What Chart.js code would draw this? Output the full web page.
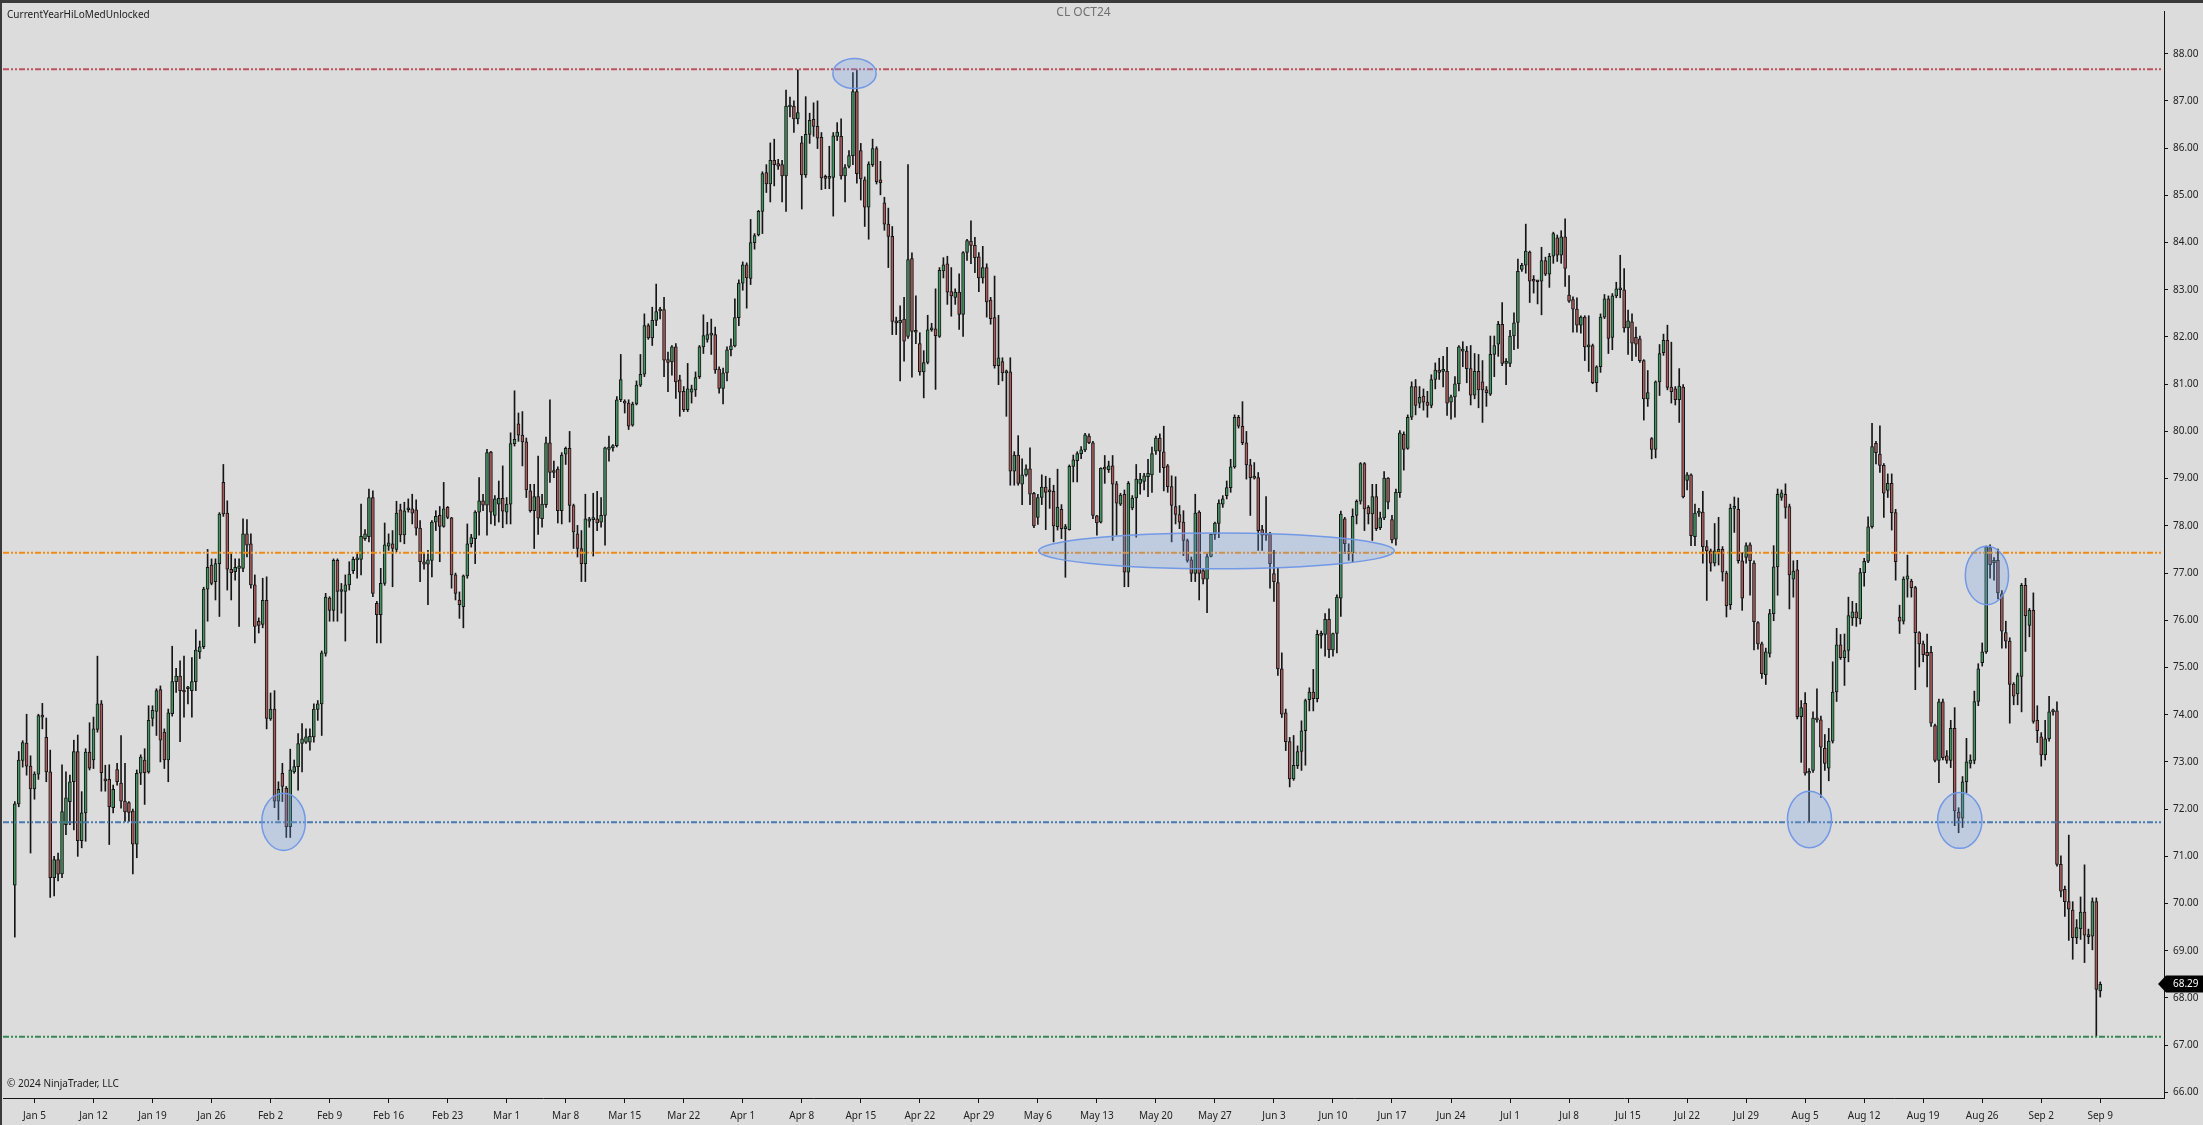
<!DOCTYPE html>
<html>
<head>
<meta charset="utf-8">
<title>CL OCT24</title>
<script src="https://cdn.jsdelivr.net/npm/chart.js@4.4.1/dist/chart.umd.min.js"></script>
<style>
  html, body { margin: 0; padding: 0; background: #dcdcdc; overflow: hidden; }
  #wrap { width: 2203px; height: 1125px; }
</style>
</head>
<body>
<div id="wrap"><canvas id="cl" width="2203" height="1125"></canvas></div>
<script>
// x axis: one label every 15 bars, first one on bar 5
const xTickLabels = [
  'Jan 5', 'Jan 12', 'Jan 19', 'Jan 26', 'Feb 2', 'Feb 9', 'Feb 16', 'Feb 23',
  'Mar 1', 'Mar 8', 'Mar 15', 'Mar 22', 'Apr 1', 'Apr 8', 'Apr 15', 'Apr 22',
  'Apr 29', 'May 6', 'May 13', 'May 20', 'May 27', 'Jun 3', 'Jun 10', 'Jun 17',
  'Jun 24', 'Jul 1', 'Jul 8', 'Jul 15', 'Jul 22', 'Jul 29', 'Aug 5', 'Aug 12',
  'Aug 19', 'Aug 26', 'Sep 2', 'Sep 9'
];
const firstTickBar = 5;
const barsPerTick = 15;

const yTickValues = [66, 67, 68, 69, 70, 71, 72, 73, 74, 75, 76, 77, 78, 79, 80,
  81, 82, 83, 84, 85, 86, 87, 88];

// CurrentYearHiLoMed levels: high, median, (blue) level, low
const levelValues = [87.67, 77.43, 71.72, 67.18];

// bars as [open, high, low, close]
const janFeb = [
  [70.39,72.16,69.29,72.11],[72.11,73.22,72.05,73.04],[73.03,73.45,72.89,73.41],[73.40,74.01,72.72,72.91],
  [72.91,73.13,71.07,72.43],[72.43,72.79,72.21,72.74],[72.74,74.01,72.63,73.98],[73.98,74.24,73.70,73.95],
  [73.52,73.93,72.58,72.79],[72.79,73.25,70.13,70.55],[70.55,71.00,70.16,70.93],[70.93,71.07,70.48,70.62],
  [70.63,72.94,70.55,71.95],[71.67,72.79,71.46,72.24],[72.16,72.72,71.67,72.58],[72.58,73.46,71.56,73.22],
  [73.22,73.57,71.00,71.33],[71.33,72.37,71.18,71.92],[71.92,73.28,71.32,73.21],[73.21,73.83,72.83,72.87],
  [73.04,73.95,72.86,73.70],[73.69,75.24,73.63,74.23],[74.23,74.30,72.38,72.77],[72.63,72.93,72.38,72.60],
  [72.63,72.94,71.25,72.05],[72.03,72.51,71.92,72.42],[72.84,72.97,72.51,72.58],[72.55,73.56,72.02,72.17],
  [72.17,72.97,71.74,71.94],[72.14,72.16,71.74,71.93],[71.96,72.00,70.63,71.26],[71.26,72.83,70.97,72.76],
  [72.76,73.15,72.52,73.10],[73.04,73.28,72.10,72.77],[72.79,74.19,72.76,73.88],[73.92,74.19,73.76,74.09],
  [74.07,74.55,73.56,74.51],[74.53,74.61,73.00,73.46],[73.63,73.70,72.86,73.04],[73.04,74.12,72.58,74.04],
  [74.02,75.45,73.97,74.70],[74.70,74.98,74.47,74.82],[74.82,75.14,73.43,74.51],[74.51,75.24,73.95,74.48],
  [74.55,74.60,74.23,74.58],[74.51,75.21,73.95,74.70],[74.70,75.80,74.51,75.37],[75.33,75.56,75.19,75.44],
  [75.44,76.70,75.40,76.66],[76.66,77.50,75.98,77.12],[77.17,77.30,76.75,76.78],[76.82,77.30,76.43,77.20],
  [77.20,78.28,76.08,78.25],[78.92,79.30,78.20,78.25],[78.27,78.53,76.64,77.08],[77.08,77.41,76.43,77.01],
  [77.03,77.30,76.85,77.12],[77.10,77.30,75.87,77.15],[77.10,78.15,77.03,77.83],[77.83,78.13,77.34,77.59],
  [77.62,77.83,76.68,76.75],[76.75,76.96,75.52,75.87],[75.98,76.05,75.73,75.89],[75.91,76.89,75.84,76.42],
  [76.42,76.92,73.70,73.92],[73.91,74.46,73.88,74.12],[74.12,74.51,72.03,72.17],[72.17,72.58,71.77,72.42],
  [72.76,72.97,72.16,72.48],[72.44,72.48,71.40,71.63],[71.63,73.27,71.40,72.83],[72.79,73.04,72.76,72.90],
  [72.90,73.60,72.40,73.39],[73.39,73.81,72.79,73.49],[73.42,73.70,73.39,73.53],[73.42,73.70,73.25,73.54],
  [73.53,74.23,73.42,74.12],[74.11,74.30,73.88,74.23],[74.23,75.35,73.56,75.31],[75.30,76.57,75.24,76.49],
  [76.47,76.50,75.98,76.21],[76.21,77.30,75.98,77.27],[77.27,77.30,75.98,76.61],[76.61,76.78,76.15,76.63],
  [76.61,76.96,75.56,76.75],[76.75,77.24,76.64,76.98],[77.05,77.34,76.99,77.29],[77.28,77.41,76.89,77.31],
  [77.29,78.46,76.96,77.78],[77.73,77.92,77.69,77.83]
];
const febApr = [
  [77.77,78.78,77.66,78.60],[78.60,78.74,76.50,76.57],[76.36,76.40,75.52,76.12],[76.12,77.10,75.52,76.78],
  [76.78,78.06,76.74,77.60],[77.57,77.83,77.48,77.64],[77.62,77.90,76.71,77.52],[77.50,78.52,77.45,78.27],
  [78.34,78.46,77.66,77.81],[77.81,78.50,77.62,78.32],[78.34,78.57,78.29,78.37],[78.36,78.67,78.04,78.27],
  [78.34,78.55,77.80,77.95],[77.95,78.11,76.82,77.24],[77.24,77.41,77.08,77.19],[77.19,77.48,76.33,77.28],
  [77.27,78.11,76.92,78.08],[78.08,78.32,77.90,78.20],[78.22,78.41,77.24,77.99],[77.99,78.92,77.97,78.36],
  [78.39,78.41,78.15,78.18],[78.17,78.18,76.68,76.96],[76.96,77.00,76.43,76.57],[76.43,76.60,76.04,76.33],
  [76.29,76.96,75.84,76.94],[76.94,78.04,76.89,77.62],[77.62,77.82,77.55,77.75],[77.73,78.32,77.20,78.29],
  [78.29,79.02,77.80,78.53],[78.53,78.67,78.32,78.44],[78.44,79.62,77.80,79.55],[79.56,79.58,78.04,78.29],
  [78.22,78.64,78.01,78.57],[78.46,78.95,78.08,78.58],[78.58,79.27,77.96,78.31],[78.29,78.60,78.04,78.46],
  [78.46,79.97,78.04,79.74],[79.74,80.86,79.69,79.83],[80.16,80.39,79.79,79.92],[79.92,80.42,79.27,79.78],
  [79.78,79.86,78.60,78.76],[78.74,78.88,78.29,78.32],[78.32,78.88,77.52,78.62],[78.62,79.48,77.82,78.16],
  [78.15,78.67,77.97,78.46],[78.45,79.88,78.39,79.76],[79.76,80.67,78.92,79.13],[79.13,79.37,79.02,79.17],
  [79.20,79.25,78.06,78.32],[78.32,79.55,78.04,79.50],[79.52,79.67,79.30,79.64],[79.64,80.00,78.08,78.43],
  [78.43,78.46,77.52,77.87],[77.83,78.01,77.34,77.52],[77.52,77.90,76.82,77.20],[77.20,78.67,76.82,78.15],
  [78.10,78.18,77.97,78.15],[78.13,78.69,77.36,78.14],[78.15,78.73,77.90,78.06],[78.08,78.60,77.97,78.22],
  [78.22,79.67,77.59,79.65],[79.62,79.90,79.37,79.67],[79.65,79.72,79.58,79.70],[79.70,80.74,79.67,80.67],
  [80.67,81.63,80.63,81.10],[80.63,80.67,80.39,80.60],[80.60,80.67,80.04,80.11],[80.13,80.62,80.11,80.58],
  [80.58,81.07,80.56,80.98],[80.98,81.63,80.95,81.21],[81.21,82.49,81.16,82.24],[82.24,82.28,81.95,81.98],
  [81.98,82.63,81.82,82.35],[82.35,83.12,82.24,82.54],[82.55,82.63,82.38,82.58],[82.58,82.84,81.16,81.51],
  [81.52,81.68,80.84,81.46],[81.47,81.82,81.19,81.79],[81.79,81.86,80.70,81.05],[81.09,81.19,80.32,80.83],
  [80.85,80.95,80.42,80.46],[80.46,81.44,80.42,80.90],[80.83,80.98,80.60,80.90],[80.88,81.26,80.74,81.14],
  [81.16,81.82,81.12,81.79],[81.79,82.47,81.65,82.03],[81.95,82.31,81.89,82.05],[82.04,82.38,81.63,82.06],
  [82.05,82.21,81.23,81.30],[81.32,81.37,80.81,80.91]
];
const aprMay = [
  [80.91,81.34,80.58,81.24],[81.24,81.79,81.07,81.73],[81.73,81.96,81.60,81.81],[81.81,82.81,81.79,82.41],
  [82.41,83.21,82.24,83.14],[83.14,83.59,82.99,83.53],[83.53,83.57,82.61,83.25],[83.24,84.49,83.11,84.00],
  [84.00,84.19,83.86,84.15],[84.16,84.68,84.14,84.66],[84.66,85.50,84.19,85.46],[85.48,85.65,85.06,85.24],
  [85.24,86.11,84.86,85.74],[85.74,86.19,85.20,85.65],[85.67,85.76,85.55,85.62],[85.65,85.74,84.86,85.41],
  [85.41,87.23,84.66,86.89],[86.87,87.08,86.66,86.91],[86.89,87.00,86.33,86.62],[86.62,87.66,86.51,86.75],
  [86.11,86.25,84.71,85.43],[85.43,87.09,85.38,86.29],[86.29,86.74,86.10,86.59],[86.61,86.96,86.25,86.46],
  [86.46,87.00,85.99,86.21],[86.23,86.33,85.12,85.37],[85.38,85.43,85.14,85.36],[85.36,86.04,85.14,85.38],
  [85.38,86.33,84.56,86.26],[86.25,86.54,86.16,86.34],[86.25,86.62,85.34,85.41],[85.41,85.65,84.86,85.59],
  [85.61,85.95,85.58,85.84],[85.84,87.60,85.65,87.20],[87.20,87.66,85.26,85.46],[85.95,86.10,84.90,85.35],
  [85.33,85.39,84.34,84.75],[84.75,85.71,84.07,85.66],[85.65,86.19,85.61,85.99],[85.99,86.03,85.24,85.29],
  [85.33,85.72,85.01,85.27],[84.84,84.96,84.26,84.39],[84.39,84.73,83.47,84.13],[84.13,84.34,82.05,82.33],
  [82.33,82.42,82.05,82.30],[82.30,82.66,81.07,82.35],[82.38,82.84,81.49,81.91],[82.01,85.65,81.97,83.64],
  [83.66,83.78,81.15,82.12],[82.12,82.87,81.86,82.10],[81.86,82.09,81.19,81.26],[81.26,81.71,80.71,81.46],
  [81.46,82.46,81.43,82.15],[82.15,82.29,82.12,82.17],[82.17,83.02,80.89,82.03],[82.01,83.47,81.99,83.41],
  [83.40,83.68,83.25,83.53],[83.55,83.71,82.69,82.95],[82.96,83.47,82.44,82.87],[82.84,83.02,82.69,82.95],
  [82.95,83.34,82.16,82.48],[82.48,83.81,82.01,83.79],[83.79,84.07,83.62,84.04],[84.03,84.46,83.55,83.94],
  [83.94,84.11,83.36,83.68],[83.70,83.79,82.96,83.25],[83.25,83.92,83.14,83.47],[83.47,83.55,82.42,82.74],
  [82.78,82.84,82.27,82.39],[82.41,83.29,81.34,81.39],[81.39,82.46,80.99,81.56],[81.48,81.56,81.07,81.24],
  [81.24,81.30,80.32,81.27],[81.26,81.56,78.86,79.16],[79.16,79.57,78.86,79.50],[79.50,79.91,78.86,78.90],
  [78.88,79.42,78.45,79.08],[79.08,79.29,79.05,79.21],[79.21,79.65,78.45,78.67],[78.69,78.71,77.96,78.00],
  [78.18,78.67,78.03,78.60],[78.60,79.08,78.45,78.82],[78.82,79.05,77.92,78.71],[78.73,79.01,78.37,78.72],
  [78.73,78.86,77.66,78.00],[77.98,79.20,77.91,78.39],[78.35,78.45,77.73,77.94],[77.94,78.03,76.91,77.96],
  [77.92,79.29,77.91,79.26],[79.26,79.50,78.93,79.40],[79.38,79.57,78.93,79.53],[79.53,79.68,79.42,79.61],
  [79.61,79.96,79.57,79.93]
];
const mayJun = [
  [79.90,79.95,79.74,79.76],[79.76,79.79,78.15,78.22],[78.21,78.22,77.80,78.06],[78.08,79.23,78.06,79.22],
  [79.22,79.49,78.90,79.20],[79.19,79.37,79.13,79.27],[79.27,79.49,77.69,78.88],[78.89,78.94,77.80,78.48],
  [78.46,78.69,78.43,78.65],[78.67,78.76,76.71,77.02],[77.02,78.94,76.71,78.90],[78.38,78.64,78.34,78.59],
  [78.59,79.30,77.76,78.99],[78.90,79.11,78.67,78.99],[78.94,79.11,78.76,79.06],[79.04,79.41,78.62,79.11],
  [79.08,79.67,78.71,79.53],[79.58,79.90,79.51,79.86],[79.86,79.95,79.13,79.58],[79.57,80.11,78.74,79.23],
  [79.27,79.30,78.71,78.83],[78.83,79.06,77.66,78.43],[78.41,79.04,78.04,78.24],[78.24,78.43,77.94,78.08],
  [78.08,78.32,77.37,77.69],[77.69,77.72,77.23,77.27],[77.28,77.34,76.82,76.99],[76.99,78.67,76.82,78.27],
  [78.29,78.32,76.43,76.99],[77.05,77.10,76.77,76.87],[76.87,77.41,76.16,77.35],[77.35,77.83,77.34,77.82],
  [77.82,78.08,77.71,78.06],[78.05,78.55,77.75,78.48],[78.46,78.64,78.39,78.57],[78.64,78.95,78.57,78.81],
  [78.81,79.41,78.71,79.25],[79.25,80.35,79.22,80.30],[80.30,80.34,80.07,80.11],[80.11,80.63,79.72,79.76],
  [79.76,80.00,78.99,79.29],[79.29,79.41,78.22,79.02],[79.04,79.34,78.99,79.01],[79.02,79.13,77.48,77.90],
  [77.92,78.01,77.48,77.80],[77.83,78.62,77.69,77.80],[77.83,77.86,76.68,77.20],[76.99,77.48,76.40,76.82],
  [76.80,77.12,74.83,74.97],[74.97,75.31,73.94,74.01],[74.04,74.12,73.24,73.43],[73.43,73.52,72.47,72.64],
  [72.64,73.56,72.61,72.93],[72.92,73.34,72.86,73.22],[73.22,73.87,72.82,73.66],[73.66,74.33,72.93,74.30],
  [74.32,74.57,74.08,74.48],[74.48,74.96,74.08,74.34],[74.34,75.79,74.27,75.70],[75.68,75.77,75.41,75.72],
  [75.70,76.14,75.24,76.02],[76.02,76.24,75.21,75.38],[75.37,75.73,75.24,75.72],[75.72,76.54,75.31,76.49],
  [76.47,78.31,76.08,78.25],[78.15,78.18,77.41,77.62],[77.45,77.62,77.27,77.41],[77.43,78.36,77.24,78.20],
  [78.22,78.55,78.04,78.52],[78.52,79.34,78.46,79.32],[79.32,79.34,77.90,78.36],[78.39,78.43,78.04,78.25],
  [78.25,78.88,77.69,78.62],[78.62,78.88,77.90,77.94],[77.96,78.29,77.92,78.17],[78.17,79.15,78.13,79.01],
  [79.01,79.02,78.36,78.50],[78.13,78.22,77.64,77.70],[77.72,78.78,77.59,78.71],[78.70,80.02,78.60,79.97],
  [79.94,79.99,79.18,79.62],[79.64,80.35,79.62,80.30],[80.30,81.05,80.25,80.95],[80.95,81.10,80.35,80.55],
  [80.60,80.95,80.50,80.72],[80.75,80.90,80.45,80.62],[80.62,80.85,80.30,80.55],[80.55,81.20,80.50,81.10],
  [81.10,81.45,80.90,81.30],[81.30,81.55,81.10,81.25]
];
const julAug = [
  [81.27,81.59,80.94,81.29],[81.27,81.78,80.34,80.60],[80.62,80.77,80.26,80.73],[80.73,81.16,80.30,81.01],
  [81.01,81.82,80.86,81.79],[81.70,81.90,81.37,81.74],[81.70,81.80,81.03,81.33],[81.33,81.82,80.56,80.77],
  [80.77,81.65,80.69,81.27],[81.27,81.63,80.50,80.88],[81.05,81.50,80.19,80.88],[80.88,80.95,80.53,80.82],
  [80.79,82.02,80.76,81.63],[81.63,82.02,81.16,81.82],[81.85,82.33,81.59,82.27],[82.27,82.73,81.39,81.44],
  [81.44,81.54,80.99,81.48],[81.44,82.14,81.37,82.02],[82.02,82.51,81.73,82.30],[82.31,83.65,81.76,83.39],
  [83.43,83.56,83.39,83.52],[83.52,84.39,83.35,83.82],[83.80,83.82,82.73,83.18],[83.21,83.30,82.93,83.18],
  [83.18,83.20,82.70,83.17],[83.18,83.90,82.47,83.62],[83.62,83.69,83.30,83.33],[83.33,83.77,83.05,83.71],
  [83.71,84.22,83.56,84.19],[84.10,84.16,83.60,83.73],[83.73,84.25,83.56,84.12],[84.12,84.50,83.07,83.45],
  [82.89,83.30,82.73,82.76],[82.79,82.85,82.10,82.59],[82.59,82.83,82.10,82.25],[82.25,82.45,82.08,82.42],
  [82.42,82.45,81.50,81.79],[81.79,82.45,81.27,81.81],[81.82,81.85,81.01,81.03],[81.03,81.39,80.84,81.37],
  [81.37,82.49,81.25,82.42],[82.42,82.90,82.39,82.81],[82.81,82.87,81.65,81.97],[81.99,82.92,81.73,82.87],
  [82.87,83.16,82.83,83.02],[83.00,83.73,82.83,83.01],[83.00,83.45,82.10,82.19],[82.19,82.57,81.63,82.34],
  [82.32,82.49,81.50,81.87],[81.99,82.21,81.59,81.85],[81.96,82.02,81.46,81.50],[81.50,81.52,80.24,80.69],
  [80.69,81.29,80.53,80.82],[79.85,79.87,79.42,79.62],[79.62,81.07,79.44,81.05],[81.05,81.84,80.76,81.65],
  [81.67,82.06,81.61,81.93],[81.93,82.25,80.88,80.93],[80.94,81.89,80.60,80.84],[80.90,80.95,80.56,80.67],
  [80.67,81.33,80.19,80.96],[80.94,80.99,78.59,78.61],[78.96,79.13,78.76,79.08],[79.08,79.10,77.58,77.79],
  [77.77,78.46,77.58,78.27],[78.27,78.37,78.20,78.27],[78.29,78.73,77.21,77.56],[77.56,77.69,76.42,77.47],
  [77.47,77.51,77.04,77.21],[77.21,78.05,77.15,77.47],[77.45,78.18,77.17,77.50],[77.50,77.56,76.83,77.02],
  [77.00,77.04,76.07,76.31],[76.33,78.46,76.23,78.37],[78.37,78.61,77.86,78.39],[78.35,78.59,77.21,77.26],
  [77.26,77.43,76.21,76.47],[77.33,77.64,77.21,77.58],[77.60,77.64,76.53,77.26],[77.21,77.26,75.37,75.97],
  [75.95,75.97,75.39,75.50],[75.50,75.54,74.77,74.87],[74.85,75.41,74.64,75.33],[75.30,76.23,75.22,76.14],
  [76.14,77.58,75.99,77.13],[77.13,78.78,76.53,78.67],[78.60,78.76,78.54,78.70],[78.67,78.89,78.16,78.39],
  [78.41,78.46,76.24,76.96],[76.87,77.26,76.49,77.04],[77.07,77.27,73.91,73.96],[73.96,74.30,72.99,74.15]
];
const augSep = [
  [74.24,74.47,72.72,72.76],[72.76,72.86,71.72,72.79],[72.82,74.06,72.78,73.93],[73.93,74.55,73.84,73.89],
  [73.89,73.97,72.25,73.31],[73.29,73.58,72.82,72.97],[72.87,73.71,72.60,73.44],[73.44,75.12,73.40,74.48],
  [74.48,75.83,74.28,75.48],[75.48,75.70,75.17,75.21],[75.21,75.71,74.62,75.36],[75.36,76.49,75.12,76.10],
  [76.05,76.40,75.89,76.18],[76.18,76.36,75.87,76.05],[76.03,77.10,75.92,77.01],[77.01,77.31,76.72,77.25],
  [77.25,78.19,77.22,77.98],[77.98,80.17,77.95,79.68],[79.75,79.79,79.31,79.55],[79.52,80.12,79.13,79.28],
  [79.28,79.32,78.18,78.69],[78.75,79.10,78.60,78.90],[78.90,79.10,77.91,78.28],[78.28,78.35,76.85,77.24],
  [76.07,76.32,75.72,75.98],[75.98,76.92,75.92,76.87],[76.87,77.38,76.49,76.94],[76.83,76.87,76.49,76.69],
  [76.69,76.72,74.53,75.74],[75.74,75.76,75.01,75.50],[75.50,75.56,75.12,75.27],[75.32,75.71,74.59,75.25],
  [75.32,75.45,73.75,73.82],[73.77,73.80,73.00,73.03],[73.03,74.33,72.56,74.27],[74.27,74.33,73.04,73.09],
  [73.13,73.24,72.97,73.03],[73.03,73.88,72.88,73.71],[73.71,74.15,71.65,71.96],[71.94,72.03,71.50,71.81],
  [71.81,72.69,71.61,72.58],[72.58,73.50,72.35,73.00],[72.97,73.15,72.87,73.04],[73.03,74.50,72.96,74.28],
  [74.28,75.08,74.19,74.97],[75.10,75.52,75.03,75.33],[75.33,77.57,75.30,77.56],[77.54,77.60,76.89,77.18],
  [77.22,77.33,76.85,77.27],[77.27,77.51,76.45,76.58],[76.56,76.63,75.41,75.77],[75.74,75.98,75.41,75.56],
  [75.56,75.63,73.82,74.64],[74.65,74.68,74.21,74.39],[74.44,74.88,74.21,74.83],[74.81,76.78,74.06,76.74],
  [76.74,76.89,75.34,76.10],[75.89,76.25,75.65,76.21],[76.21,76.58,73.82,73.86],[73.88,74.19,73.41,73.66],
  [73.53,73.62,72.91,73.15],[73.15,73.88,73.04,73.49],[73.49,74.39,73.44,74.06],[74.06,74.12,73.99,74.10],
  [74.08,74.27,70.79,70.83],[70.83,71.01,70.14,70.26],[70.30,70.37,69.73,70.04],[70.04,71.45,69.22,69.88],
  [69.86,70.04,68.82,69.28],[69.28,69.66,69.15,69.49],[69.47,70.14,69.24,69.82],[69.82,70.82,68.75,69.33],
  [69.33,69.46,69.15,69.30],[69.31,70.12,69.02,70.04],[70.04,70.12,67.19,68.18],[68.15,68.34,68.02,68.29]
];

// hand drawn ellipses: [bar, price, half width in bars, half height in price]
const highlights = [
  [213.4, 87.58, 5.5, 0.32],
  [68.3, 71.73, 5.55, 0.605],
  [305.4, 77.47, 45.2, 0.38],
  [456.1, 71.78, 5.6, 0.6],
  [494.3, 71.76, 5.64, 0.59],
  [501.2, 76.95, 5.5, 0.62]
];

const bars = [].concat(janFeb, febApr, aprMay, mayJun, julAug, augSep);
const lastClose = bars[bars.length - 1][3];

const UP = '#43925f';
const DOWN = '#a65a5a';
const INK = '#151515';
const BG = '#dcdcdc';
const FONT = '"Noto Sans", "Open Sans", sans-serif';

const X_MIN = -3.0;
const X_MAX = 546.2;

const wickData = bars.map((b, i) => ({ x: i, y: [b[2], b[1]] }));
const bodyData = bars.map((b, i) => ({ x: i, y: [Math.min(b[0], b[3]), Math.max(b[0], b[3])] }));
const bodyColors = bars.map(b => (b[3] >= b[0] ? UP : DOWN));

const levelColors = ['rgb(188,84,96)', 'rgb(240,140,20)', 'rgb(74,122,170)', 'rgb(52,136,86)'];
const levelSets = levelValues.map((v, k) => ({
  type: 'line',
  data: [{ x: X_MIN, y: v }, { x: X_MAX - 0.6, y: v }],
  borderColor: levelColors[k],
  borderWidth: 2,
  borderDash: [6, 2, 2, 2, 2, 2],
  pointRadius: 0,
  order: 0
}));

const framePlugin = {
  id: 'frame',
  beforeDraw(chart) {
    const c = chart.ctx;
    c.save();
    c.fillStyle = BG;
    c.fillRect(0, 0, chart.width, chart.height);
    c.fillStyle = '#3a3a3a';
    c.fillRect(0, 0, chart.width, 3);
    c.fillRect(0, 0, 2, chart.height);
    c.restore();
  },
  afterDatasetsDraw(chart) {
    const c = chart.ctx;
    const xs = chart.scales.x;
    const ys = chart.scales.y;
    const area = chart.chartArea;
    c.save();
    c.beginPath();
    c.rect(area.left, area.top, area.right - area.left, area.bottom - area.top);
    c.clip();
    highlights.forEach(h => {
      const cx = xs.getPixelForValue(h[0]);
      const cy = ys.getPixelForValue(h[1]);
      const rx = Math.abs(xs.getPixelForValue(h[0] + h[2]) - cx);
      const ry = Math.abs(ys.getPixelForValue(h[1] + h[3]) - cy);
      c.beginPath();
      c.ellipse(cx, cy, rx, ry, 0, 0, Math.PI * 2);
      c.fillStyle = 'rgba(120,160,235,0.28)';
      c.fill();
      c.lineWidth = 1.5;
      c.strokeStyle = 'rgba(110,150,230,0.95)';
      c.stroke();
    });
    c.restore();
  },
  afterDraw(chart) {
    const c = chart.ctx;
    const area = chart.chartArea;
    const ys = chart.scales.y;
    c.save();
    c.textBaseline = 'middle';
    c.fillStyle = '#1c1c1c';
    c.font = '10px ' + FONT;
    c.textAlign = 'left';
    c.fillText('CurrentYearHiLoMedUnlocked', 7, 15);
    c.fillText('\u00A9 2024 NinjaTrader, LLC', 7, 1084);
    c.fillStyle = '#707070';
    c.font = '12px ' + FONT;
    c.textAlign = 'center';
    c.fillText('CL OCT24', (area.left + area.right) / 2, 13);

    // last price marker on the price axis
    const py = Math.round(ys.getPixelForValue(lastClose));
    c.fillStyle = '#000';
    c.beginPath();
    c.moveTo(area.right - 6, py);
    c.lineTo(area.right + 2, py - 8.5);
    c.lineTo(chart.width, py - 8.5);
    c.lineTo(chart.width, py + 8.5);
    c.lineTo(area.right + 2, py + 8.5);
    c.closePath();
    c.fill();
    c.fillStyle = '#fff';
    c.font = '10px ' + FONT;
    c.textAlign = 'left';
    c.fillText(lastClose.toFixed(2), area.right + 9, py);
    c.restore();
  }
};

new Chart(document.getElementById('cl'), {
  type: 'bar',
  data: {
    datasets: [
      ...levelSets,
      {
        label: 'body',
        data: bodyData,
        backgroundColor: bodyColors,
        borderColor: INK,
        borderWidth: 1,
        borderSkipped: false,
        barThickness: 3,
        minBarLength: 2,
        grouped: false,
        order: 1
      },
      {
        label: 'wick',
        data: wickData,
        backgroundColor: INK,
        borderWidth: 0,
        barThickness: 1,
        grouped: false,
        order: 2
      }
    ]
  },
  options: {
    responsive: false,
    devicePixelRatio: 1,
    animation: false,
    events: [],
    layout: { padding: { left: 3, top: 3, right: 0, bottom: 0 } },
    plugins: {
      legend: { display: false },
      tooltip: { enabled: false },
      title: { display: false }
    },
    scales: {
      x: {
        type: 'linear',
        min: X_MIN,
        max: X_MAX,
        offset: false,
        afterFit(scale) { scale.height = 27; },
        afterBuildTicks(scale) {
          scale.ticks = xTickLabels.map((l, k) => ({ value: firstTickBar + k * barsPerTick }));
        },
        grid: { drawOnChartArea: false, color: INK, tickLength: 5, offset: false },
        border: { display: true, color: INK, width: 1 },
        ticks: {
          autoSkip: false,
          maxRotation: 0,
          padding: 7,
          color: '#222',
          font: { family: FONT, size: 10 },
          callback: (v, i) => xTickLabels[i]
        }
      },
      y: {
        type: 'linear',
        position: 'right',
        min: 65.882,
        max: 88.904,
        beginAtZero: false,
        afterFit(scale) { scale.width = 39; },
        afterBuildTicks(scale) {
          scale.ticks = yTickValues.map(v => ({ value: v }));
        },
        grid: { drawOnChartArea: false, color: INK, tickLength: 4 },
        border: { display: true, color: INK, width: 1 },
        ticks: {
          padding: 5,
          color: '#222',
          font: { family: FONT, size: 10 },
          callback: v => Number(v).toFixed(2)
        }
      }
    }
  },
  plugins: [framePlugin]
});
</script>
</body>
</html>
